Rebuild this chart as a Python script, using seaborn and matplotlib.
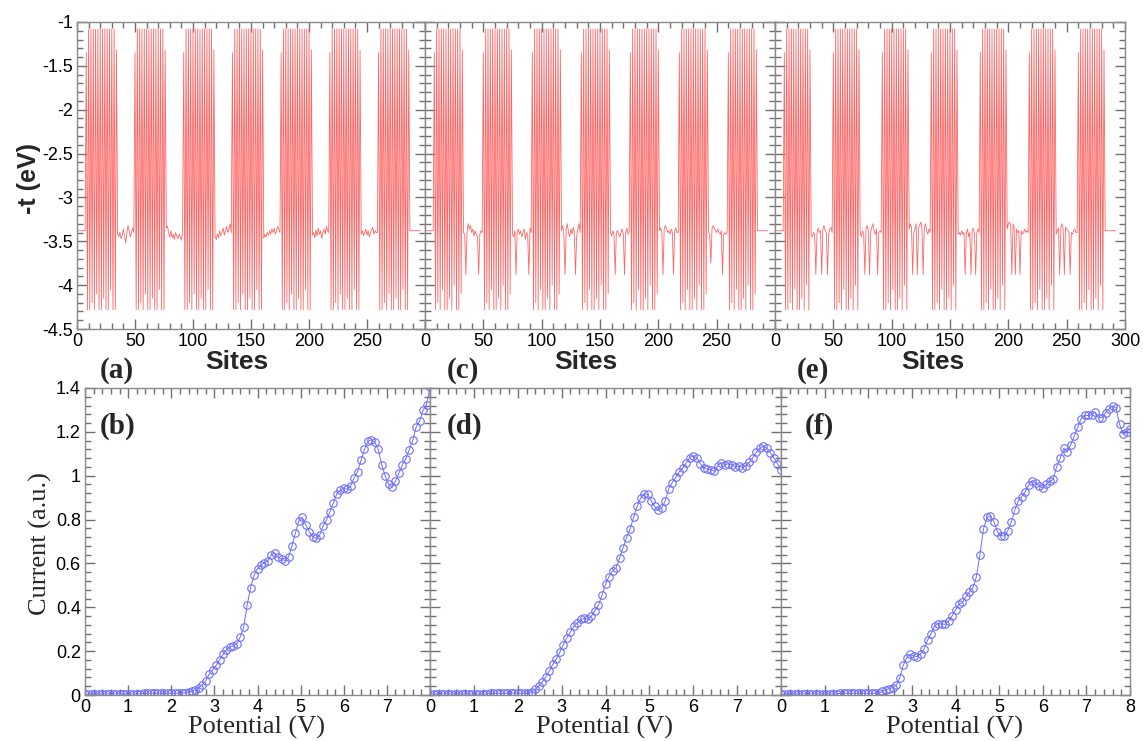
import numpy as np
import pandas as pd
import matplotlib
matplotlib.use("Agg")
import matplotlib.pyplot as plt
import seaborn as sns
from matplotlib.ticker import MultipleLocator, FuncFormatter

# ---------------- data: hopping parameter along the chain ----------------
lead_level = [-3.38] * 8
trail_level = [-3.38] * 10

block_a = [-1.35, -4.28, -1.08, -4.28, -1.08, -4.2, -1.08, -4.28, -1.08, -4.1,
           -1.08, -4.28, -1.08, -4.28, -1.08, -4.15, -1.08, -4.28, -1.08, -4.28,
           -1.08, -4.05, -1.08, -4.28, -1.08, -4.28, -1.32]
gaps_a = [
    [-3.42, -3.45, -3.40, -3.47, -3.43, -3.36, -3.44, -3.52, -3.40, -3.32, -3.38, -3.45, -3.40, -3.35, -3.40],
    [-3.35, -3.33, -3.40, -3.45, -3.38, -3.46, -3.42, -3.48, -3.40, -3.44, -3.47, -3.42, -3.45, -3.49, -3.40],
    [-3.45, -3.48, -3.42, -3.46, -3.38, -3.44, -3.40, -3.35, -3.43, -3.38, -3.33, -3.40, -3.36, -3.30, -3.40],
    [-3.47, -3.42, -3.45, -3.40, -3.43, -3.38, -3.42, -3.36, -3.40, -3.35, -3.42, -3.38, -3.33, -3.37, -3.40],
    [-3.43, -3.40, -3.46, -3.37, -3.44, -3.35, -3.42, -3.38, -3.47, -3.40, -3.36, -3.42, -3.33, -3.38, -3.40],
    [-3.42, -3.38, -3.44, -3.40, -3.36, -3.43, -3.38, -3.45, -3.40, -3.37, -3.34, -3.42, -3.38, -3.40, -3.40],
]

block_c = [-1.35, -4.28, -1.08, -4.2, -1.08, -4.28, -1.08, -4.05, -1.08, -4.28,
           -1.08, -4.28, -1.08, -4.15, -1.08, -4.28, -1.08, -4.0, -1.08, -4.28,
           -1.08, -4.28, -1.08, -4.1, -1.32]
gaps_c = [
    [-3.40, -3.42, -3.88, -3.40, -3.30, -3.36, -3.32, -3.40, -3.36, -3.44, -3.38, -3.42, -3.45, -3.88, -3.42, -3.38, -3.40],
    [-3.42, -3.45, -3.38, -3.88, -3.40, -3.36, -3.42, -3.38, -3.45, -3.40, -3.36, -3.48, -3.40, -3.42, -3.88, -3.35, -3.40],
    [-3.38, -3.32, -3.42, -3.88, -3.36, -3.30, -3.40, -3.45, -3.36, -3.42, -3.34, -3.40, -3.88, -3.44, -3.36, -3.30, -3.40],
    [-3.40, -3.44, -3.38, -3.42, -3.88, -3.40, -3.38, -3.42, -3.45, -3.40, -3.36, -3.42, -3.88, -3.40, -3.35, -3.42, -3.40],
    [-3.38, -3.35, -3.40, -3.88, -3.36, -3.32, -3.35, -3.40, -3.38, -3.42, -3.36, -3.40, -3.88, -3.38, -3.35, -3.40, -3.40],
    [-3.40, -3.42, -3.75, -3.36, -3.32, -3.35, -3.38, -3.40, -3.36, -3.40, -3.42, -3.38, -3.88, -3.42, -3.40, -3.42, -3.40],
]

block_e = [-1.35, -4.28, -1.08, -4.28, -1.08, -4.2, -1.08, -4.28, -1.08, -4.05,
           -1.08, -4.28, -1.08, -4.28, -1.08, -4.15, -1.08, -4.28, -1.08, -4.0,
           -1.08, -4.28, -1.32]
gaps_e = [
    [-3.42, -3.45, -3.40, -3.42, -3.88, -3.40, -3.35, -3.40, -3.38, -3.88, -3.36, -3.32, -3.38, -3.40, -3.88, -3.42, -3.36, -3.34, -3.40],
    [-3.40, -3.45, -3.38, -3.42, -3.88, -3.36, -3.32, -3.38, -3.88, -3.40, -3.34, -3.30, -3.38, -3.42, -3.36, -3.88, -3.40, -3.38, -3.40],
    [-3.36, -3.30, -3.34, -3.88, -3.40, -3.36, -3.30, -3.88, -3.35, -3.32, -3.28, -3.36, -3.88, -3.34, -3.30, -3.38, -3.42, -3.36, -3.40],
    [-3.42, -3.40, -3.43, -3.38, -3.42, -3.40, -3.88, -3.40, -3.36, -3.45, -3.40, -3.88, -3.38, -3.35, -3.42, -3.88, -3.40, -3.36, -3.40],
    [-3.36, -3.30, -3.28, -3.32, -3.88, -3.30, -3.34, -3.88, -3.36, -3.40, -3.38, -3.88, -3.38, -3.42, -3.40, -3.36, -3.40, -3.38, -3.40],
    [-3.42, -3.38, -3.35, -3.88, -3.34, -3.30, -3.36, -3.88, -3.34, -3.36, -3.38, -3.40, -3.88, -3.40, -3.42, -3.38, -3.36, -3.40, -3.40],
]

# ---------------- data: current vs potential ----------------
potential_step = 0.08
flat_current = [0.005] * 17 + [0.008] * 12
current_b = flat_current + [
    0.010, 0.012, 0.017, 0.024, 0.033, 0.045, 0.065, 0.095,
    0.115, 0.135, 0.160, 0.185, 0.207, 0.218, 0.224, 0.232,
    0.265, 0.310, 0.410, 0.490, 0.545, 0.575, 0.592, 0.604,
    0.612, 0.640, 0.647, 0.628, 0.619, 0.613, 0.630, 0.680,
    0.740, 0.795, 0.810, 0.775, 0.745, 0.722, 0.714, 0.728,
    0.771, 0.798, 0.836, 0.877, 0.918, 0.933, 0.943, 0.938,
    0.953, 0.990, 1.018, 1.070, 1.120, 1.157, 1.164, 1.154,
    1.120, 1.050, 1.000, 0.960, 0.950, 0.975, 1.012, 1.050,
    1.078, 1.119, 1.161, 1.222, 1.250, 1.300, 1.324, 1.405,
]
current_d = flat_current + [
    0.014, 0.026, 0.040, 0.060, 0.083, 0.110, 0.140, 0.165,
    0.195, 0.230, 0.262, 0.287, 0.313, 0.330, 0.345, 0.350,
    0.345, 0.360, 0.385, 0.410, 0.455, 0.505, 0.540, 0.565,
    0.580, 0.625, 0.670, 0.718, 0.757, 0.810, 0.860, 0.897,
    0.918, 0.915, 0.885, 0.860, 0.842, 0.852, 0.885, 0.940,
    0.968, 0.992, 1.018, 1.035, 1.058, 1.083, 1.090, 1.082,
    1.055, 1.035, 1.030, 1.028, 1.020, 1.045, 1.060, 1.050,
    1.055, 1.050, 1.040, 1.045, 1.037, 1.043, 1.062, 1.083,
    1.108, 1.126, 1.135, 1.125, 1.105, 1.080, 1.055, 1.025,
]
current_f = flat_current + [
    0.016, 0.023, 0.029, 0.034, 0.045, 0.076, 0.135, 0.170,
    0.186, 0.178, 0.175, 0.188, 0.210, 0.250, 0.280, 0.315,
    0.325, 0.324, 0.322, 0.338, 0.360, 0.387, 0.414, 0.422,
    0.450, 0.470, 0.490, 0.540, 0.640, 0.756, 0.810, 0.815,
    0.790, 0.745, 0.727, 0.725, 0.750, 0.790, 0.845, 0.885,
    0.905, 0.927, 0.958, 0.978, 0.968, 0.955, 0.942, 0.960,
    0.975, 0.983, 1.042, 1.080, 1.125, 1.110, 1.140, 1.180,
    1.220, 1.260, 1.275, 1.275, 1.278, 1.290, 1.265, 1.265,
    1.288, 1.305, 1.318, 1.310, 1.235, 1.190, 1.200, 1.215,
]

top_labels = ["(a)", "(c)", "(e)"]
bottom_labels = ["(b)", "(d)", "(f)"]


def chain(block, gaps):
    seq = list(lead_level)
    for g in gaps:
        seq += block + g
    seq += block + trail_level
    return seq


chains = [chain(block_a, gaps_a), chain(block_c, gaps_c), chain(block_e, gaps_e)]
currents = [current_b, current_d, current_f]

# ---------------- style ----------------
sns.set_theme(style="ticks")
plt.rcParams["font.family"] = ["Liberation Sans", "DejaVu Sans"]
plt.rcParams.update({
    "axes.edgecolor": "#8a8a8a",
    "axes.linewidth": 1.0,
    "xtick.color": "#707070",
    "ytick.color": "#707070",
    "xtick.labelcolor": "black",
    "ytick.labelcolor": "black",
    "xtick.labelsize": 13,
    "ytick.labelsize": 13,
})

W, H = 1143, 741
fig = plt.figure(figsize=(W / 100, H / 100), dpi=100)


def rect(l, t, r, b):
    return [l / W, 1 - b / H, (r - l) / W, (b - t) / H]


top_x = [(77, 425), (425, 775), (775, 1125)]
bot_x = [(85, 430), (430, 781), (781, 1130)]
RED = "#ff6666"
BLUE = "#6e6eff"

fmt = FuncFormatter(lambda v, p: "%g" % round(v, 6))


def style_ax(ax):
    ax.tick_params(which="both", direction="in", top=True, right=True,
                   bottom=True, left=True, width=1.0)
    ax.tick_params(which="major", length=7, pad=3)
    ax.tick_params(which="minor", length=4)
    ax.set_xlabel("")
    ax.set_ylabel("")


for i in range(3):
    # top panel
    ax = fig.add_axes(rect(top_x[i][0], 22, top_x[i][1], 329))
    seq = chains[i]
    df = pd.DataFrame({"site": np.arange(len(seq)), "t": seq})
    sns.lineplot(data=df, x="site", y="t", ax=ax, color=RED, lw=0.6,
                 estimator=None, sort=False)
    ax.set_xlim(0, 300)
    ax.set_ylim(-4.5, -1)
    ax.xaxis.set_major_locator(MultipleLocator(50))
    ax.xaxis.set_minor_locator(MultipleLocator(10))
    ax.yaxis.set_major_locator(MultipleLocator(0.5))
    ax.yaxis.set_minor_locator(MultipleLocator(0.1))
    last = i == 2
    ax.xaxis.set_major_formatter(FuncFormatter(
        lambda v, p, last=last: "" if (v > 299 and not last) else "%g" % v))
    ax.yaxis.set_major_formatter(fmt)
    style_ax(ax)
    if i > 0:
        ax.tick_params(labelleft=False)

    # bottom panel
    ax2 = fig.add_axes(rect(bot_x[i][0], 388, bot_x[i][1], 695))
    cur = currents[i]
    dfc = pd.DataFrame({"V": np.arange(len(cur)) * potential_step, "I": cur})
    sns.lineplot(data=dfc, x="V", y="I", ax=ax2, color=BLUE, lw=0.7,
                 marker="o", markersize=5.4, markerfacecolor="none",
                 markeredgecolor=BLUE, markeredgewidth=0.8,
                 estimator=None, sort=False)
    ax2.set_xlim(0, 8)
    ax2.set_ylim(0, 1.4)
    ax2.xaxis.set_major_locator(MultipleLocator(1))
    ax2.xaxis.set_minor_locator(MultipleLocator(0.2))
    ax2.yaxis.set_major_locator(MultipleLocator(0.2))
    ax2.yaxis.set_minor_locator(MultipleLocator(0.04))
    ax2.xaxis.set_major_formatter(FuncFormatter(
        lambda v, p, last=last: "" if (v > 7.99 and not last) else "%g" % v))
    ax2.yaxis.set_major_formatter(fmt)
    style_ax(ax2)
    if i > 0:
        ax2.tick_params(labelleft=False)


def ftext(x, y, s, **kw):
    fig.text(x / W, 1 - y / H, s, **kw)


serif = ["Liberation Serif", "DejaVu Serif"]
sans = ["Liberation Sans", "DejaVu Sans"]

ftext(29, 178, "-t (eV)", rotation=90, ha="center", va="center",
      fontsize=18, fontweight="bold", family=sans)
ftext(40, 544, "Current (a.u.)", rotation=90, ha="center", va="center",
      fontsize=19, family=serif)

for cx in [237, 586, 933]:
    ftext(cx, 362, "Sites", ha="center", va="center", fontsize=19,
          fontweight="bold", family=sans)
for cx in [257, 604, 954]:
    ftext(cx, 727, "Potential (V)", ha="center", va="center", fontsize=19,
          family=serif)
for lx, s in zip([100, 447, 797], top_labels):
    ftext(lx, 370, s, ha="left", va="center", fontsize=21,
          fontweight="bold", family=serif)
for lx, s in zip([100, 447, 805], bottom_labels):
    ftext(lx, 426, s, ha="left", va="center", fontsize=21,
          fontweight="bold", family=serif)

fig.savefig("out.png", dpi=100)
